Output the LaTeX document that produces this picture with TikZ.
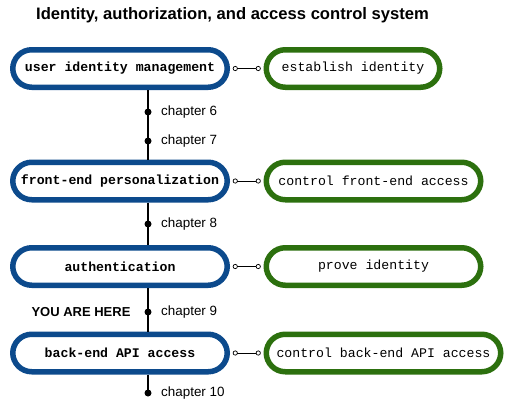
\documentclass[tikz,border=0pt]{standalone}
\usepackage{fontspec}
\setmainfont{Liberation Sans}
\newfontfamily\codefont{Liberation Mono}
\usepackage{xcolor}
\usetikzlibrary{positioning,shadows,arrows.meta}
\definecolor{layerblue}{RGB}{12,74,140}
\definecolor{layergreen}{RGB}{44,112,14}

\begin{document}
\begin{tikzpicture}[x=1pt,y=1pt,chap/.style={font=\fontsize{13.4}{15}\selectfont}]
        \tikzstyle{layer} = [draw=layerblue, line width=5.5pt, fill=white, rounded corners=19pt, minimum width=214.5pt, minimum height=37.5pt, inner sep=0pt, font=\codefont\bfseries\fontsize{13.2}{15}\selectfont, drop shadow={shadow xshift=1pt, shadow yshift=-1.5pt, opacity=0.2}]
        \tikzstyle{role} = [layer, draw=layergreen, font=\codefont\fontsize{13.2}{15}\selectfont]
        \tikzstyle{dot} = [circle, fill=black, inner sep=0pt, minimum size=7pt]
        \tikzstyle{link} = [line width=0.7pt, {Circle[open,length=5pt]}-{Circle[open,length=5pt]}, shorten <=2.75pt, shorten >=2.75pt]
        \tikzstyle{rail} = [line width=1.4pt]
        \useasboundingbox (0,0) rectangle (510,-405);

        \node[font=\bfseries\fontsize{16.6}{20}\selectfont] (title) at (232.5,-15) {Identity, authorization, and access control system};

        \node[layer] (uim) at (120,-68.5) {user identity management};
        \node[layer] (fep) at (120,-181) {front-end personalization};
        \node[layer] (auth) at (120,-266.5) {authentication};
        \node[layer] (bea) at (120,-353) {back-end API access};

        \node[role, minimum width=173.5pt, right = 33.5pt of uim] (est) {establish identity};
        \node[role, right = 33.5pt of fep] (cfa) {control front-end access};
        \node[role, right = 33.5pt of auth] (prove) {prove identity};
        \node[role, minimum width=234.5pt, right = 33.5pt of bea] (cba) {control back-end API access};

        \node[dot, label={[chap, label distance=6pt]right:chapter 6}] (ch6) at (148,-112) {};
        \node[dot, label={[chap, label distance=6pt]right:chapter 7}] (ch7) at (148,-141) {};
        \node[dot, label={[chap, label distance=6pt]right:chapter 8}] (ch8) at (148,-224) {};
        \node[dot, label={[chap, label distance=6pt]right:chapter 9}] (ch9) at (148,-312) {};
        \node[dot, label={[chap, label distance=6pt]right:chapter 10}] (ch10) at (148,-393) {};

        \node[chap, font=\bfseries\fontsize{13}{15}\selectfont] (here) at (81,-312) {YOU ARE HERE};

        \draw [rail] (uim.south -| ch6) -- (ch6.center) -- (ch7.center) -- (fep.north -| ch7);
        \draw [rail] (fep.south -| ch8) -- (auth.north -| ch8);
        \draw [rail] (auth.south -| ch9) -- (bea.north -| ch9);
        \draw [rail] (bea.south -| ch10) -- (ch10.center);

        \draw [link] (uim) -- (est);
        \draw [link] (fep) -- (cfa);
        \draw [link] (auth) -- (prove);
        \draw [link] (bea) -- (cba);
\end{tikzpicture}
\end{document}
